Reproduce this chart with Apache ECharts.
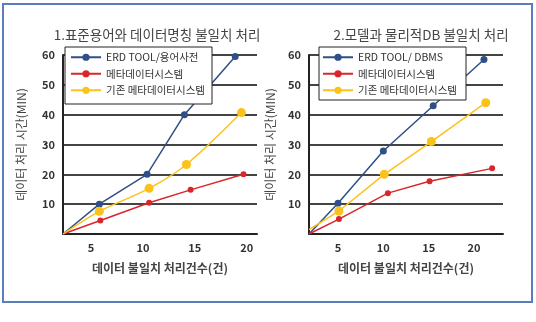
<!DOCTYPE html>
<html>
<head>
<meta charset="utf-8">
<script src="https://cdn.jsdelivr.net/npm/echarts@6/dist/echarts.min.js"></script>
<style>
  html, body { margin: 0; padding: 0; background: #fff; }
  #chart { width: 536px; height: 322px; }
</style>
</head>
<body>
<div id="chart"></div>
<script>
// chart 1: 표준용어와 데이터명칭 불일치 처리
const erdTool1 = [[2.3, 0], [5.8, 10], [10.4, 20], [14.0, 40], [18.9, 59.5]]
const metaSys1 = [[2.3, 0], [5.9, 4.5], [10.6, 10.5], [14.6, 14.8], [19.7, 20]]
const oldMeta1 = [[2.3, 0], [5.8, 7.6], [10.6, 15.3], [14.2, 23.3], [19.5, 40.7]]

// chart 2: 모델과 물리적DB 불일치 처리
const erdTool2 = [[1.8, 0], [5.0, 10.3], [10.0, 27.8], [15.5, 43], [21.1, 58.5]]
const metaSys2 = [[1.8, 0], [5.1, 5], [10.5, 13.7], [15.1, 17.7], [22.0, 22]]
const oldMeta2 = [[1.8, 1.5], [5.1, 7.7], [10.1, 20], [15.3, 31], [21.3, 44]]

const xTicks = [5, 10, 15, 20]
const titles = ['1.표준용어와 데이터명칭 불일치 처리', '2.모델과 물리적DB 불일치 처리']
const legend1 = ['ERD TOOL/용어사전', '메타데이터시스템', '기존 메타데이터시스템']
const legend2 = ['ERD TOOL/ DBMS', '메타데이터시스템', '기존 메타데이터시스템']

const FONT = '"Noto Sans CJK KR", "Noto Sans", sans-serif'
const BLUE = '#2f4f86'
const RED = '#d9262a'
const YELLOW = '#fbc21b'

const chart = echarts.init(document.getElementById('chart'))

const makeX = (idx, min, max) => ({
  type: 'value',
  gridIndex: idx,
  min: min,
  max: max,
  name: '데이터 불일치 처리건수(건)',
  nameLocation: 'middle',
  nameGap: 28,
  nameTextStyle: { fontFamily: FONT, fontSize: 12, fontWeight: 'bold', color: '#444' },
  axisLine: { lineStyle: { color: '#222', width: 2 } },
  axisTick: { show: false },
  splitLine: { show: false },
  axisLabel: {
    customValues: xTicks,
    fontFamily: FONT, fontSize: 11, fontWeight: 'bold', color: '#333', margin: 8
  }
})

const makeY = (idx, gap) => ({
  type: 'value',
  gridIndex: idx,
  min: 0,
  max: 60,
  interval: 10,
  name: '데이터 처리 시간(MIN)',
  nameLocation: 'middle',
  nameGap: gap,
  nameTextStyle: { fontFamily: FONT, fontSize: 12, color: '#444' },
  axisLine: { show: true, lineStyle: { color: '#222', width: 2 } },
  axisTick: { show: false },
  splitLine: { lineStyle: { color: '#444', width: 2 } },
  axisLabel: {
    fontFamily: FONT, fontSize: 11, fontWeight: 'bold', color: '#333', margin: 8,
    formatter: v => (v === 0 ? '' : v)
  }
})

// the origin point has no marker in the original
const makeSeries = (name, data, idx, color, size, smooth) => ({
  name: name,
  type: 'line',
  xAxisIndex: idx,
  yAxisIndex: idx,
  data: data.map((d, i) => (i === 0 ? { value: d, symbolSize: 0 } : d)),
  smooth: smooth,
  symbol: 'circle',
  symbolSize: size,
  showSymbol: true,
  lineStyle: { color: color, width: 1.5 },
  itemStyle: { color: color },
  z: 2
})

const legendStyle = (left) => ({
  orient: 'vertical',
  left: left,
  top: 52,
  itemWidth: 30,
  itemHeight: 9,
  itemGap: 6,
  padding: 0,
  textStyle: { fontFamily: FONT, fontSize: 10.5, color: '#333' }
})

const titleStyle = { fontFamily: FONT, fontSize: 13.5, fontWeight: 'normal', color: '#444' }

chart.setOption({
  animation: false,
  backgroundColor: '#fff',
  title: [
    { text: titles[0], left: 152, top: 23, textAlign: 'center', textStyle: titleStyle },
    { text: titles[1], left: 416, top: 23, textAlign: 'center', textStyle: titleStyle }
  ],
  grid: [
    { left: 63, top: 55, width: 194, height: 179 },
    { left: 309, top: 55, width: 194, height: 179 }
  ],
  xAxis: [makeX(0, 2.3, 21), makeX(1, 1.8, 23.2)],
  yAxis: [makeY(0, 36), makeY(1, 33)],
  legend: [
    Object.assign(legendStyle(70), { data: legend1 }),
    Object.assign(legendStyle(322), { data: legend2 })
  ],
  graphic: [
    { type: 'rect', z: 3, shape: { x: 65, y: 47, width: 147, height: 57 },
      style: { fill: '#fff', stroke: '#222', lineWidth: 1 } },
    { type: 'rect', z: 3, shape: { x: 319, y: 47, width: 147, height: 53 },
      style: { fill: '#fff', stroke: '#222', lineWidth: 1 } },
    { type: 'rect', z: 1, shape: { x: 3, y: 4, width: 529, height: 298 },
      style: { fill: 'none', stroke: '#5a7dbb', lineWidth: 2 } }
  ],
  series: [
    makeSeries(legend1[0], erdTool1, 0, BLUE, 7, false),
    makeSeries(legend1[1], metaSys1, 0, RED, 6, false),
    makeSeries(legend1[2], oldMeta1, 0, YELLOW, 9, 0.3),
    makeSeries(legend2[0], erdTool2, 1, BLUE, 7, false),
    makeSeries(legend2[1], metaSys2, 1, RED, 6, false),
    makeSeries(legend2[2], oldMeta2, 1, YELLOW, 9, false)
  ]
})

window.addEventListener('resize', () => chart.resize())
</script>
</body>
</html>
